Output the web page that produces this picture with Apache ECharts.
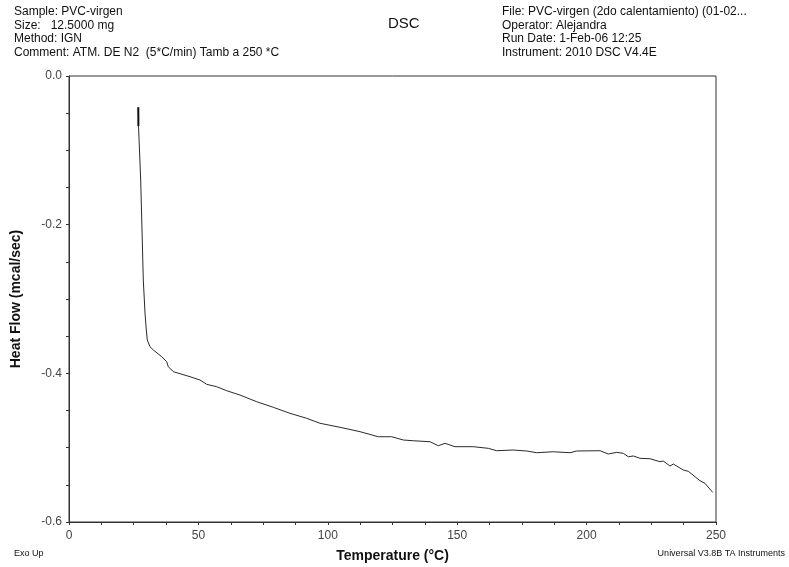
<!DOCTYPE html>
<html>
<head>
<meta charset="utf-8">
<script src="https://cdn.jsdelivr.net/npm/echarts@6/dist/echarts.min.js"></script>
<style>
  html, body { margin: 0; padding: 0; background: #fff; }
  #chart { width: 789px; height: 567px; }
</style>
</head>
<body>
<div id="chart"></div>
<script>
// DSC heat-flow trace, PVC-virgen second heating
const temperature = [
  26.78, 26.86, 27.24, 27.70, 28.21, 28.71, 29.37, 29.87, 30.26, 31.30,
  32.57, 35.82, 37.75, 38.37, 40.30, 46.75, 50.62, 53.21, 57.07, 60.94,
  66.07, 72.53, 78.94, 85.39, 91.85, 96.99, 104.71, 112.44, 119.51, 124.69,
  129.17, 133.04, 139.49, 142.70, 145.29, 149.15, 156.22, 162.02, 165.26, 171.68,
  176.85, 180.72, 187.13, 193.59, 196.17, 205.18, 208.39, 211.63, 214.18, 216.11,
  218.05, 220.63, 224.50, 228.36, 229.64, 232.23, 233.50, 237.37, 239.30, 243.82,
  245.75, 248.72
];
const heatFlow = [
  -0.0421, -0.0673, -0.0996, -0.1399, -0.2072, -0.2745, -0.3189, -0.3417, -0.3552, -0.3642,
  -0.3686, -0.3776, -0.3844, -0.3911, -0.3978, -0.4045, -0.4090, -0.4148, -0.4180, -0.4234,
  -0.4292, -0.4382, -0.4457, -0.4538, -0.4605, -0.4672, -0.4726, -0.4785, -0.4853, -0.4853,
  -0.4897, -0.4907, -0.4920, -0.4974, -0.4942, -0.4987, -0.4987, -0.5009, -0.5041, -0.5032,
  -0.5045, -0.5068, -0.5055, -0.5068, -0.5045, -0.5041, -0.5085, -0.5063, -0.5076, -0.5122,
  -0.5112, -0.5143, -0.5149, -0.5189, -0.5180, -0.5247, -0.5220, -0.5301, -0.5318, -0.5445,
  -0.5480, -0.5601
];
// heavier mark at the start of the run
const startT = [26.78, 26.82];
const startH = [-0.0421, -0.0673];

const xTicks = [0, 50, 100, 150, 200, 250];
const yTicks = [0.0, -0.2, -0.4, -0.6];

const headerLeft = [
  'Sample: PVC-virgen',
  'Size:   12.5000 mg',
  'Method: IGN',
  'Comment: ATM. DE N2  (5*C/min) Tamb a 250 *C'
];
const headerRight = [
  'File: PVC-virgen (2do calentamiento) (01-02...',
  'Operator: Alejandra',
  'Run Date: 1-Feb-06 12:25',
  'Instrument: 2010 DSC V4.4E'
];

const FONT = 'Liberation Sans, Arial, sans-serif';

const chart = echarts.init(document.getElementById('chart'), null, { renderer: 'canvas' });

const graphics = [];
headerLeft.forEach((t, i) => {
  graphics.push({ type: 'text', left: 14, top: 6 + i * 13.5,
    style: { text: t, font: '12px ' + FONT, fill: '#111' } });
});
headerRight.forEach((t, i) => {
  graphics.push({ type: 'text', left: 502, top: 6 + i * 13.5,
    style: { text: t, font: '12px ' + FONT, fill: '#111' } });
});
graphics.push({ type: 'text', left: 388, top: 16,
  style: { text: 'DSC', font: '15px ' + FONT, fill: '#111' } });
graphics.push({ type: 'text', left: 14, top: 549,
  style: { text: 'Exo Up', font: '9px ' + FONT, fill: '#111' } });
graphics.push({ type: 'text', right: 4, top: 549,
  style: { text: 'Universal V3.8B TA Instruments', font: '9px ' + FONT, fill: '#111' } });

chart.setOption({
  animation: false,
  backgroundColor: '#fff',
  graphic: graphics,
  grid: {
    left: 69, right: 73, top: 76, bottom: 45,
    outerBoundsMode: 'none',
    containLabel: false,
    show: true, borderColor: '#333', borderWidth: 1, backgroundColor: 'transparent'
  },
  xAxis: {
    type: 'value', min: 0, max: 250, interval: 50,
    name: 'Temperature (°C)', nameLocation: 'middle', nameGap: 27,
    nameTextStyle: { fontFamily: FONT, fontSize: 14, fontWeight: 'bold', color: '#111' },
    axisLine: { show: true, onZero: false, lineStyle: { color: '#333', width: 1 } },
    axisTick: { show: true, inside: false, length: 3, lineStyle: { color: '#333' } },
    minorTick: { show: true, splitNumber: 4, length: 3, lineStyle: { color: '#333' } },
    splitLine: { show: false },
    axisLabel: {
      fontFamily: FONT, fontSize: 12, color: '#444', margin: 8,
      formatter: v => xTicks.includes(v) ? String(v) : ''
    }
  },
  yAxis: {
    type: 'value', min: -0.6, max: 0, interval: 0.2,
    name: 'Heat Flow (mcal/sec)', nameLocation: 'middle', nameGap: 46, nameRotate: 90,
    nameTextStyle: { fontFamily: FONT, fontSize: 14, fontWeight: 'bold', color: '#111' },
    axisLine: { show: true, onZero: false, lineStyle: { color: '#333', width: 1 } },
    axisTick: { show: true, inside: false, length: 3, lineStyle: { color: '#333' } },
    minorTick: { show: true, splitNumber: 4, length: 3, lineStyle: { color: '#333' } },
    splitLine: { show: false },
    axisLabel: {
      fontFamily: FONT, fontSize: 12, color: '#444', margin: 7,
      formatter: v => {
        const r = Math.round(v * 10) / 10;
        return yTicks.some(t => Math.abs(t - r) < 1e-9) ? (r === 0 ? '0.0' : r.toFixed(1)) : '';
      }
    }
  },
  series: [
    {
      type: 'line', showSymbol: false, smooth: false,
      data: temperature.map((t, i) => [t, heatFlow[i]]),
      lineStyle: { color: '#2a2a2a', width: 1 }
    },
    {
      type: 'line', showSymbol: false,
      data: startT.map((t, i) => [t, startH[i]]),
      lineStyle: { color: '#111', width: 2 }
    }
  ]
});
</script>
</body>
</html>
